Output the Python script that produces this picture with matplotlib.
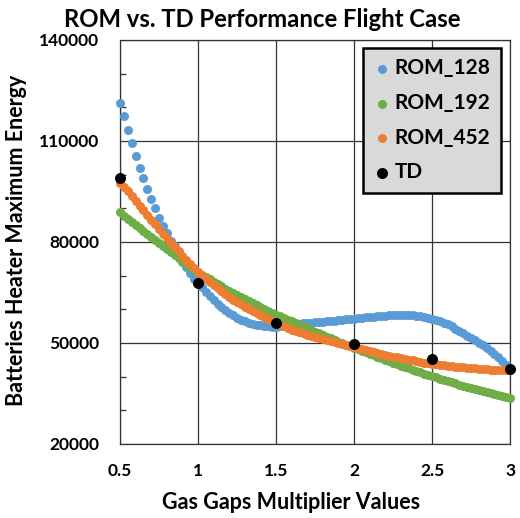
import numpy as np
import matplotlib
matplotlib.use('Agg')
import matplotlib.pyplot as plt
from matplotlib.ticker import MultipleLocator

plt.rcParams['font.family'] = ['Lato', 'DejaVu Sans']
plt.rcParams['font.weight'] = 'bold'

# gas gap multiplier sample points (0.5 to 3 in steps of 0.025)
gap_mult = np.linspace(0.5, 3.0, 101)

rom_128 = [
    121400, 117500, 113300, 109300, 105500, 102100, 98900, 95700, 92700, 90000,
    87200, 84700, 82600, 80400, 78700, 76700, 74600, 72500, 70700, 69100,
    67800, 66500, 65200, 63900, 62700, 61600, 60600, 59700, 58900, 58200,
    57500, 56900, 56400, 56000, 55700, 55400, 55200, 55000, 54900, 54850,
    54850, 54900, 55000, 55200, 55400, 55550, 55700, 55800, 55900, 56000,
    56100, 56200, 56300, 56400, 56550, 56650, 56800, 56900, 57000, 57150,
    57250, 57350, 57500, 57600, 57700, 57850, 57950, 58050, 58150, 58250,
    58300, 58350, 58400, 58400, 58350, 58250, 58150, 58000, 57800, 57550,
    57250, 56900, 56500, 56050, 55500, 55000, 54300, 53700, 53000, 52200,
    51500, 50800, 50100, 49300, 48500, 47600, 46700, 45700, 44700, 43600,
    42500,
]

rom_192 = [
    88800, 87800, 86800, 85900, 85000, 84100, 83200, 82300, 81400, 80500,
    79600, 78700, 77800, 76900, 76000, 75100, 74200, 73400, 72600, 71800,
    71000, 70300, 69600, 68900, 68200, 67500, 66800, 66100, 65400, 64800,
    64200, 63600, 63000, 62400, 61800, 61200, 60600, 60000, 59400, 58900,
    58400, 57900, 57400, 56900, 56400, 55900, 55400, 54900, 54400, 53900,
    53400, 52900, 52400, 51900, 51400, 50900, 50400, 49950, 49500, 49050,
    48600, 48150, 47700, 47250, 46800, 46350, 45900, 45450, 45000, 44550,
    44100, 43700, 43300, 42900, 42500, 42100, 41700, 41300, 40900, 40500,
    40100, 39750, 39400, 39050, 38700, 38350, 38000, 37650, 37300, 36950,
    36650, 36350, 36050, 35750, 35450, 35150, 34850, 34550, 34250, 33950,
    33650,
]

rom_452 = [
    97600, 96300, 95000, 93600, 92200, 90800, 89400, 88000, 86600, 85200,
    83800, 82500, 81200, 79800, 78500, 77200, 75900, 74600, 73400, 72200,
    71000, 70000, 69000, 68000, 67100, 66200, 65300, 64500, 63700, 62900,
    62200, 61500, 60800, 60100, 59400, 58800, 58200, 57600, 57000, 56500,
    56000, 55450, 54950, 54450, 54000, 53600, 53200, 52850, 52500, 52150,
    51800, 51500, 51200, 50900, 50600, 50300, 50000, 49700, 49400, 49150,
    48900, 48600, 48300, 48000, 47700, 47400, 47100, 46800, 46500, 46200,
    45950, 45700, 45450, 45200, 45000, 44800, 44600, 44400, 44200, 44050,
    43900, 43750, 43600, 43450, 43300, 43150, 43000, 42900, 42800, 42700,
    42600, 42500, 42400, 42300, 42200, 42100, 42050, 42000, 41950, 41900,
    41850,
]

td_x = [0.5, 1.0, 1.5, 2.0, 2.5, 3.0]
td_y = [98900, 67900, 55850, 49600, 45300, 42300]

fig = plt.figure(figsize=(5.2, 5.18), dpi=100)
ax = fig.add_axes([0.2308, 0.1429, 0.75, 0.7799])

ax.scatter(gap_mult, rom_128, s=42, color='#5B9BD5', lw=0, label='ROM_128', clip_on=False, zorder=3)
ax.scatter(gap_mult, rom_192, s=42, color='#70AD47', lw=0, label='ROM_192', clip_on=False, zorder=4)
ax.scatter(gap_mult, rom_452, s=42, color='#ED7D31', lw=0, label='ROM_452', clip_on=False, zorder=5)
ax.scatter(td_x, td_y, s=63, color='black', lw=0, label='TD', clip_on=False, zorder=6)

ax.set_xlim(0.5, 3.0)
ax.set_ylim(20000, 140000)
ax.set_xticks([0.5, 1, 1.5, 2, 2.5, 3])
ax.set_xticklabels(['0.5', '1', '1.5', '2', '2.5', '3'])
ax.set_yticks([20000, 50000, 80000, 110000, 140000])
ax.yaxis.set_minor_locator(MultipleLocator(10000))
ax.tick_params(axis='both', which='major', length=0, labelsize=12.5)
ax.tick_params(axis='x', pad=14)
ax.tick_params(axis='y', pad=15)
ax.tick_params(axis='y', which='minor', direction='in', length=4, width=0.9, color='#333333')
ax.grid(True, which='major', color='#333333', lw=0.9)
ax.set_axisbelow(True)
for sp in ax.spines.values():
    sp.set_color('#333333')
    sp.set_linewidth(0.9)

fig.text(0.505, 0.948, 'ROM vs. TD Performance Flight Case', fontsize=17.2, fontweight='bold',
         ha='center', va='baseline')
ax.set_xlabel('Gas Gaps Multiplier Values', fontsize=15.5, fontweight='bold')
ax.xaxis.set_label_coords(0.438, -0.12)
ax.set_ylabel('Batteries Heater Maximum Energy', fontsize=15.5, fontweight='bold')
ax.yaxis.set_label_coords(-0.238, 0.505)

leg = ax.legend(loc='upper right', bbox_to_anchor=(0.977, 0.98), borderaxespad=0, fontsize=15,
                frameon=True, fancybox=False, edgecolor='black', facecolor='#D9D9D9', framealpha=1,
                handletextpad=0.2, labelspacing=0.7, borderpad=0.5, handlelength=0.8)
leg.get_frame().set_linewidth(1.8)

fig.savefig('out.png', dpi=100)
